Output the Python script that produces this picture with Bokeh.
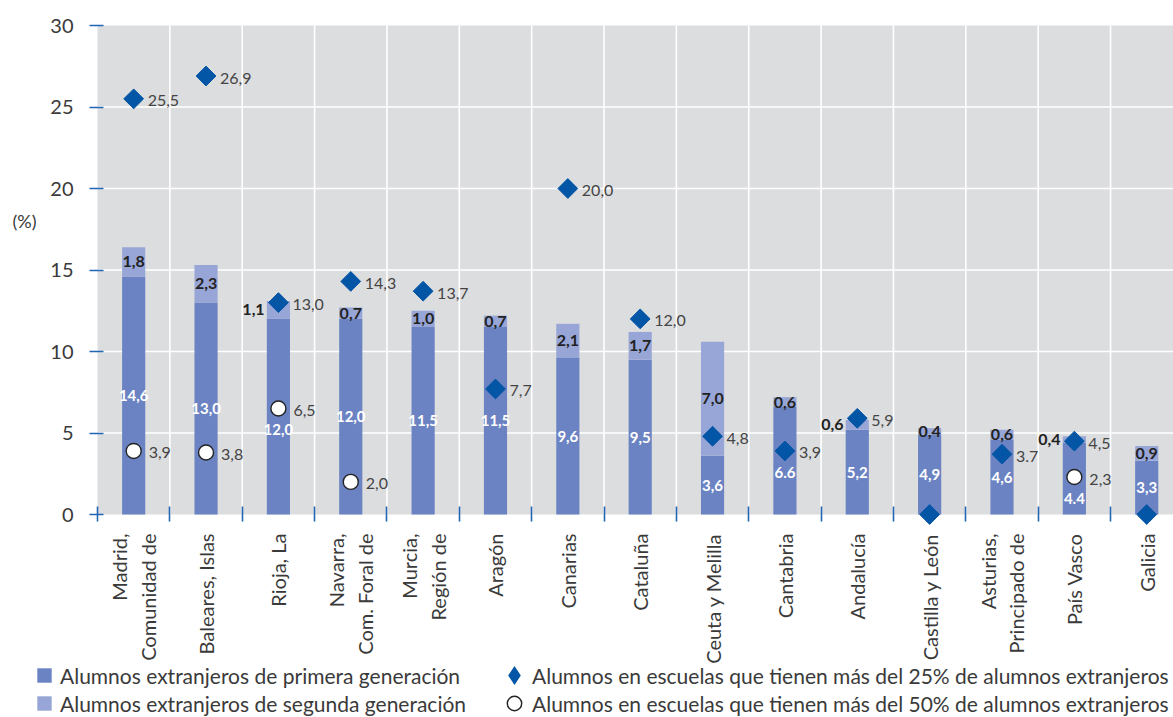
import math
from bokeh.plotting import figure
from bokeh.models import Range1d, FixedTicker, Legend, LegendItem, Label
from bokeh.core.properties import value
from bokeh.embed import file_html
from bokeh.resources import INLINE

# ---------------- data ----------------
categories = ["Madrid,\nComunidad de", "Baleares, Islas", "Rioja, La",
              "Navarra,\nCom. Foral de", "Murcia,\nRegión de", "Aragón",
              "Canarias", "Cataluña", "Ceuta y Melilla", "Cantabria",
              "Andalucía", "Castilla y León", "Asturias,\nPrincipado de",
              "País Vasco", "Galicia"]
first_gen = [14.6, 13.0, 12.0, 12.0, 11.5, 11.5, 9.6, 9.5, 3.6, 6.6, 5.2, 4.9, 4.6, 4.4, 3.3]
first_gen_labels = ["14,6", "13,0", "12,0", "12,0", "11,5", "11,5", "9,6", "9,5",
                    "3,6", "6.6", "5,2", "4,9", "4,6", "4.4", "3,3"]
second_gen = [1.8, 2.3, 1.1, 0.7, 1.0, 0.7, 2.1, 1.7, 7.0, 0.6, 0.6, 0.4, 0.6, 0.4, 0.9]
second_gen_labels = ["1,8", "2,3", "1,1", "0,7", "1,0", "0,7", "2,1", "1,7",
                     "7,0", "0,6", "0,6", "0,4", "0,6", "0,4", "0,9"]
over25 = [25.5, 26.9, 13.0, 14.3, 13.7, 7.7, 20.0, 12.0, 4.8, 3.9, 5.9, 0.0, 3.7, 4.5, 0.0]
over25_labels = ["25,5", "26,9", "13,0", "14,3", "13,7", "7,7", "20,0", "12,0",
                 "4,8", "3,9", "5,9", "", "3.7", "4,5", ""]
over50 = [3.9, 3.8, 6.5, 2.0, None, None, None, None, None, None, None, None, None, 2.3, None]
over50_labels = ["3,9", "3,8", "6,5", "2,0", "", "", "", "", "", "", "", "", "", "2,3", ""]
y_ticks = [0, 5, 10, 15, 20, 25, 30]

legend_labels = ["Alumnos extranjeros de primera generación",
                 "Alumnos extranjeros de segunda generación",
                 "Alumnos en escuelas que tienen más del 25% de alumnos extranjeros",
                 "Alumnos en escuelas que tienen más del 50% de alumnos extranjeros"]

# ---------------- styles ----------------
C_FIRST = "#6b83c2"
C_SECOND = "#97a6d6"
C_DIAMOND = "#0355a6"
C_BG = "#dcdddf"
C_TICK = "#2366b3"
C_TEXT = "#3a3a3a"
FONT = "Lato"

W, H = 1173, 717
X0_PX, Y0_PX, Y30_PX = 97, 514, 25      # pixel anchors of the plotting area
PX_PER_CAT = 72.36
PX_PER_UNIT = (Y0_PX - Y30_PX) / 30.0

n = len(categories)
xc = [i + 0.5 for i in range(n)]
total = [a + b for a, b in zip(first_gen, second_gen)]

x_range = Range1d(-X0_PX / PX_PER_CAT, (W - X0_PX) / PX_PER_CAT)
y_range = Range1d(-(H - Y0_PX) / PX_PER_UNIT, 30 + Y30_PX / PX_PER_UNIT)

p = figure(width=W, height=H, x_range=x_range, y_range=y_range,
           output_backend="svg", toolbar_location=None,
           min_border_left=0, min_border_right=0, min_border_top=0, min_border_bottom=0)
p.xgrid.visible = False
p.ygrid.visible = False
p.outline_line_color = None
p.background_fill_color = "white"
p.border_fill_color = "white"

# gray plotting area + white grid
p.quad(left=[0], right=[n], bottom=[0], top=[30], fill_color=C_BG, line_color=None)
hy = [t for t in y_ticks if 0 < t < 30]
p.segment(x0=[0] * len(hy), y0=hy, x1=[n] * len(hy), y1=hy, line_color="white", line_width=1.6)
vx = list(range(1, n))
p.segment(x0=vx, y0=[0] * len(vx), x1=vx, y1=[30] * len(vx), line_color="white", line_width=1.6)

# bars
bw = 0.32
r_first = p.vbar(x=xc, bottom=[0] * n, top=first_gen, width=bw, fill_color=C_FIRST, line_color=None)
r_second = p.vbar(x=xc, bottom=first_gen, top=total, width=bw, fill_color=C_SECOND, line_color=None)

# markers
r_dia = p.scatter(x=xc, y=over25, marker="square", angle=math.pi / 4, size=14,
                  fill_color=C_DIAMOND, line_color=C_DIAMOND)
# same points as a diamond glyph (hidden) so that the legend key shows a diamond symbol
r_dia_key = p.scatter(x=xc, y=over25, marker="diamond", size=14, visible=False,
                      fill_color=C_DIAMOND, line_color=C_DIAMOND, line_width=2.5,
                      line_join="miter")
cx = [x for x, v in zip(xc, over50) if v is not None]
cy = [v for v in over50 if v is not None]
r_circ = p.scatter(x=cx, y=cy, marker="circle", size=15, fill_color="white",
                   line_color="#222222", line_width=1.4)

# value labels for markers
p.text(x=xc, y=over25, text=over25_labels, x_offset=14, y_offset=2, text_align="left",
       text_baseline="middle", text_font=value(FONT), text_font_size="16px", text_color="#444444")
cl = [l for l, v in zip(over50_labels, over50) if v is not None]
p.text(x=cx, y=cy, text=cl, x_offset=15, y_offset=2, text_align="left",
       text_baseline="middle", text_font=value(FONT), text_font_size="16px", text_color="#444444")

# first-generation labels (white, inside bar)
fy = []
for i in range(n):
    mid = first_gen[i] / 2
    marks = [over25[i]] + ([over50[i]] if over50[i] is not None else [])
    close = [m for m in marks if abs(m - mid) < 1.0]
    fy.append(close[0] - 1.3 if close else mid)
p.text(x=xc, y=fy, text=first_gen_labels, text_align="center", text_baseline="middle",
       text_font=value(FONT), text_font_size="15px", text_font_style="bold", text_color="white")

# second-generation labels (dark)
sx_c, sy_c, st_c, sx_l, sy_l, st_l = [], [], [], [], [], []
for i in range(n):
    yy = first_gen[i] + second_gen[i] / 2
    if abs(yy - over25[i]) < 0.6:
        sx_l.append(xc[i] - 0.19); sy_l.append(yy); st_l.append(second_gen_labels[i])
    else:
        sx_c.append(xc[i]); sy_c.append(yy); st_c.append(second_gen_labels[i])
p.text(x=sx_c, y=sy_c, text=st_c, text_align="center", text_baseline="middle",
       text_font=value(FONT), text_font_size="16px", text_font_style="bold", text_color="#222222")
p.text(x=sx_l, y=sy_l, text=st_l, text_align="right", text_baseline="middle",
       text_font=value(FONT), text_font_size="16px", text_font_style="bold", text_color="#222222")

# axes, drawn at fixed positions inside the canvas
p.yaxis.fixed_location = 0
p.yaxis.ticker = FixedTicker(ticks=y_ticks)
p.yaxis.axis_line_color = None
p.yaxis.major_tick_line_color = C_TICK
p.yaxis.major_tick_line_width = 1.6
p.yaxis.major_tick_in = 6
p.yaxis.major_tick_out = 8
p.yaxis.minor_tick_line_color = None
p.yaxis.major_label_standoff = 16
p.yaxis.major_label_text_font = FONT
p.yaxis.major_label_text_font_size = "20px"
p.yaxis.major_label_text_color = C_TEXT

p.xaxis.fixed_location = 0
p.xaxis.ticker = FixedTicker(ticks=xc, minor_ticks=list(range(0, n + 1)))
p.xaxis.major_label_overrides = {x: c for x, c in zip(xc, categories)}
p.xaxis.major_label_orientation = math.pi / 2
p.xaxis.axis_line_color = None
p.xaxis.major_tick_line_color = None
p.xaxis.major_tick_in = 0
p.xaxis.major_tick_out = 0
p.xaxis.minor_tick_line_color = C_TICK
p.xaxis.minor_tick_line_width = 1.6
p.xaxis.minor_tick_in = 8
p.xaxis.minor_tick_out = 7
p.xaxis.major_label_standoff = 12
p.xaxis.major_label_text_font = FONT
p.xaxis.major_label_text_font_size = "20px"
p.xaxis.major_label_text_color = C_TEXT

p.add_layout(Label(x=12, x_units="screen", y=18.0, y_units="data", text="(%)",
                   text_baseline="middle", text_font=FONT, text_font_size="18px",
                   text_color=C_TEXT))

# legends: one key per legend so that each row can be placed exactly
common = dict(border_line_color=None, background_fill_alpha=0, padding=0, margin=0,
              label_text_font=FONT, label_text_font_size="21px", label_text_color=C_TEXT,
              label_height=26, orientation="vertical", spacing=0)
bar_keys = dict(glyph_width=18, glyph_height=18, label_standoff=7)
mark_keys = dict(glyph_width=36, glyph_height=36, label_standoff=0)
p.add_layout(Legend(items=[LegendItem(label=legend_labels[0], renderers=[r_first])],
                    location=(35, 29), **bar_keys, **common))
p.add_layout(Legend(items=[LegendItem(label=legend_labels[1], renderers=[r_second])],
                    location=(35, 1), **bar_keys, **common))
p.add_layout(Legend(items=[LegendItem(label=legend_labels[2], renderers=[r_dia_key])],
                    location=(496, 24), **mark_keys, **common))
p.add_layout(Legend(items=[LegendItem(label=legend_labels[3], renderers=[r_circ])],
                    location=(496, -4), **mark_keys, **common))

open("out.html", "w").write(file_html(p, INLINE))
